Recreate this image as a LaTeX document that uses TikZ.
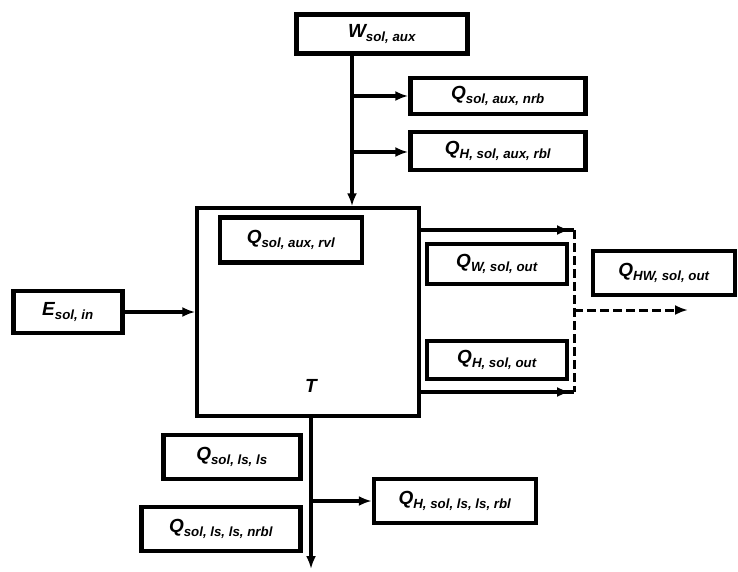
\documentclass[tikz,border=0pt]{standalone}
\usepackage{fontspec}
\setmainfont{Liberation Sans}
\usetikzlibrary{arrows.meta,positioning}
\newcommand{\flowq}[2]{{\bfseries\itshape #1\textsubscript{#2}}}
\begin{document}
\begin{tikzpicture}[x=1pt, y=-1pt, >={Latex[length=13pt,width=10pt]}]
        \tikzstyle{qbox} = [draw, line width=4.5pt, rectangle, inner sep=0pt, font=\fontsize{19}{22}\selectfont]
        \tikzstyle{flow} = [line width=3.5pt, ->]
        \tikzstyle{flowd} = [line width=3pt, dashed, dash pattern=on 9pt off 4pt]
    \useasboundingbox (0,0) rectangle (738,572);
    % plant
    \node[draw, line width=3.5pt, minimum width=222pt, minimum height=208pt] (plant) at (308,312) {};
    \node[font=\fontsize{19}{22}\selectfont\bfseries\itshape] (T) at (311,386) {T};
    \node[qbox, minimum width=142pt, minimum height=45pt] (rvl) at (291,240) {\flowq{Q}{sol, aux, rvl}};
    % auxiliary energy
    \node[qbox, minimum width=171pt, minimum height=39pt] (waux) at (382,34) {\flowq{W}{sol, aux}};
    \node[qbox, minimum width=175pt, minimum height=36pt] (nrb) at (498,96) {\flowq{Q}{sol, aux, nrb}};
    \node[qbox, minimum width=175pt, minimum height=38pt] (rbl) at (498,151) {\flowq{Q}{H, sol, aux, rbl}};
    \coordinate (a) at (352,96);
    \coordinate (b) at (352,152);
    \draw[flow] (waux.south -| a) -- (plant.north -| a);
    \draw[flow] (a) -- (nrb.west);
    \draw[flow] (b) -- (b -| rbl.west);
    % input
    \node[qbox, minimum width=109pt, minimum height=42pt] (ein) at (68,312) {\flowq{E}{sol, in}};
    \draw[flow] (ein.east) -- (ein.east -| plant.west);
    % output
    \node[qbox, minimum width=140pt, minimum height=40pt] (wout) at (497,264) {\flowq{Q}{W, sol, out}};
    \node[qbox, minimum width=140pt, minimum height=38pt] (hout) at (497,360) {\flowq{Q}{H, sol, out}};
    \node[qbox, minimum width=142pt, minimum height=44pt] (hwout) at (664,273) {\flowq{Q}{HW, sol, out}};
    \coordinate (c) at (574,230);
    \coordinate (d) at (574,392);
    \coordinate (e) at (574,310);
    \coordinate (f) at (688,310);
    \draw[line width=3.5pt] (c -| plant.east) -- (c);
    \draw[flow] (c -| plant.east) -- (570,230);
    \draw[line width=3.5pt] (d -| plant.east) -- (d);
    \draw[flow] (d -| plant.east) -- (570,392);
    \draw[flowd] (c) -- (d);
    \draw[flowd, ->] (e) -- (f);
    % losses
    \node[qbox, minimum width=137pt, minimum height=44pt] (ls) at (232,457) {\flowq{Q}{sol, ls, ls}};
    \node[qbox, minimum width=159pt, minimum height=44pt] (lsn) at (221,529) {\flowq{Q}{sol, ls, ls, nrbl}};
    \node[qbox, minimum width=162pt, minimum height=44pt] (lsr) at (455,501) {\flowq{Q}{H, sol, ls, ls, rbl}};
    \coordinate (g) at (311,569);
    \coordinate (h) at (311,501);
    \draw[flow] (plant.south -| g) -- (g);
    \draw[flow] (h) -- (lsr.west);
\end{tikzpicture}
\end{document}
